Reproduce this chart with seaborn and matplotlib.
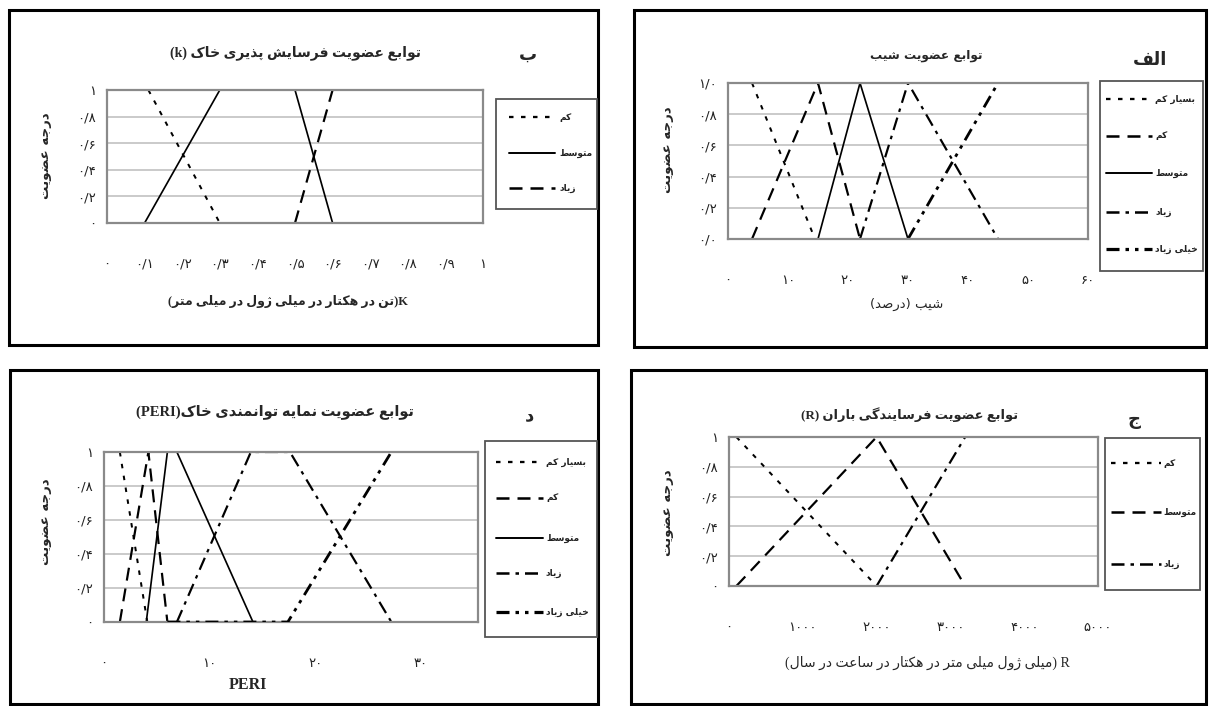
import matplotlib
matplotlib.use("Agg")
import matplotlib.pyplot as plt
import seaborn as sns
from matplotlib import font_manager, ft2font
from matplotlib.patches import Rectangle
from matplotlib.lines import Line2D

# ---------------- data ----------------
# الف : slope (percent)
slope_names = ["بسیار کم", "کم", "متوسط", "زیاد", "خیلی زیاد"]
slope_vlow_x = [4, 14.5];        slope_vlow_y = [1, 0]
slope_low_x = [4, 15, 22];       slope_low_y = [0, 1, 0]
slope_mid_x = [15, 22, 30];      slope_mid_y = [0, 1, 0]
slope_high_x = [22, 30, 45];     slope_high_y = [0, 1, 0]
slope_vhigh_x = [30, 45];        slope_vhigh_y = [0, 1]
slope_xticks = [0, 10, 20, 30, 40, 50, 60]

# ب : soil erodibility K
k_names = ["کم", "متوسط", "زیاد"]
k_low_x = [0.11, 0.3];           k_low_y = [1, 0]
k_mid_x = [0.1, 0.3, 0.5, 0.6];  k_mid_y = [0, 1, 1, 0]
k_high_x = [0.5, 0.6];           k_high_y = [0, 1]
k_xticks = [0, 0.1, 0.2, 0.3, 0.4, 0.5, 0.6, 0.7, 0.8, 0.9, 1]

# ج : rainfall erosivity R
r_names = ["کم", "متوسط", "زیاد"]
r_low_x = [100, 2000];           r_low_y = [1, 0]
r_mid_x = [100, 2000, 3200];     r_mid_y = [0, 1, 0]
r_high_x = [2000, 3200];         r_high_y = [0, 1]
r_xticks = [0, 1000, 2000, 3000, 4000, 5000]

# د : PERI
peri_names = ["بسیار کم", "کم", "متوسط", "زیاد", "خیلی زیاد"]
peri_vlow_x = [1.5, 4.1];              peri_vlow_y = [1, 0]
peri_low_x = [1.5, 4.2, 6.0];          peri_low_y = [0, 1, 0]
peri_mid_x = [4.0, 6.0, 6.9, 14.1];    peri_mid_y = [0, 1, 1, 0]
peri_high_x = [6.9, 13.9, 17.6, 27.2]; peri_high_y = [0, 1, 1, 0]
peri_vhigh_x = [6.0, 17.4, 27.2];      peri_vhigh_y = [0, 0, 1]
peri_xticks = [0, 10, 20, 30]

y_ticks = [0, 0.2, 0.4, 0.6, 0.8, 1.0]

# ---------------- Persian shaping helpers ----------------
RIGHT = {
    'ا': (0xFE8D, 0xFE8E), 'آ': (0xFE81, 0xFE82), 'د': (0xFEA9, 0xFEAA),
    'ذ': (0xFEAB, 0xFEAC), 'ر': (0xFEAD, 0xFEAE), 'ز': (0xFEAF, 0xFEB0),
    'ژ': (0xFB8A, 0xFB8B), 'و': (0xFEED, 0xFEEE),
}
DUAL = {
    'ب': (0xFE8F, 0xFE90, 0xFE91, 0xFE92), 'پ': (0xFB56, 0xFB57, 0xFB58, 0xFB59),
    'ت': (0xFE95, 0xFE96, 0xFE97, 0xFE98), 'ث': (0xFE99, 0xFE9A, 0xFE9B, 0xFE9C),
    'ج': (0xFE9D, 0xFE9E, 0xFE9F, 0xFEA0), 'چ': (0xFB7A, 0xFB7B, 0xFB7C, 0xFB7D),
    'ح': (0xFEA1, 0xFEA2, 0xFEA3, 0xFEA4), 'خ': (0xFEA5, 0xFEA6, 0xFEA7, 0xFEA8),
    'س': (0xFEB1, 0xFEB2, 0xFEB3, 0xFEB4), 'ش': (0xFEB5, 0xFEB6, 0xFEB7, 0xFEB8),
    'ص': (0xFEB9, 0xFEBA, 0xFEBB, 0xFEBC), 'ض': (0xFEBD, 0xFEBE, 0xFEBF, 0xFEC0),
    'ط': (0xFEC1, 0xFEC2, 0xFEC3, 0xFEC4), 'ظ': (0xFEC5, 0xFEC6, 0xFEC7, 0xFEC8),
    'ع': (0xFEC9, 0xFECA, 0xFECB, 0xFECC), 'غ': (0xFECD, 0xFECE, 0xFECF, 0xFED0),
    'ف': (0xFED1, 0xFED2, 0xFED3, 0xFED4), 'ق': (0xFED5, 0xFED6, 0xFED7, 0xFED8),
    'ک': (0xFB8E, 0xFB8F, 0xFB90, 0xFB91), 'گ': (0xFB92, 0xFB93, 0xFB94, 0xFB95),
    'ل': (0xFEDD, 0xFEDE, 0xFEDF, 0xFEE0), 'م': (0xFEE1, 0xFEE2, 0xFEE3, 0xFEE4),
    'ن': (0xFEE5, 0xFEE6, 0xFEE7, 0xFEE8), 'ه': (0xFEE9, 0xFEEA, 0xFEEB, 0xFEEC),
    'ی': (0xFBFC, 0xFBFD, 0xFBFE, 0xFBFF),
}
FALLBACK = {
    'ک': (0xFED9, 0xFEDA, 0xFEDB, 0xFEDC), 'گ': (0xFED9, 0xFEDA, 0xFEDB, 0xFEDC),
    'ی': (0xFEEF, 0xFEF0, 0xFEF3, 0xFEF4), 'پ': (0xFE8F, 0xFE90, 0xFE91, 0xFE92),
    'چ': (0xFE9D, 0xFE9E, 0xFE9F, 0xFEA0), 'ژ': (0xFEAF, 0xFEB0),
}
try:
    _path = font_manager.findfont(font_manager.FontProperties(family="DejaVu Sans", weight="bold"))
    _cmap = set(ft2font.FT2Font(_path).get_charmap().keys())
except Exception:
    _cmap = None


def _forms(c):
    f = DUAL.get(c) or RIGHT.get(c)
    if _cmap is not None and any(cp not in _cmap for cp in f) and c in FALLBACK:
        f = FALLBACK[c]
    return f


def fa_text(s):
    """shape Persian letters and return the string in visual (left-to-right) order"""
    out = []
    for i, c in enumerate(s):
        if c not in DUAL and c not in RIGHT:
            out.append(c)
            continue
        prev = s[i - 1] if i > 0 else ''
        nxt = s[i + 1] if i + 1 < len(s) else ''
        cp = prev in DUAL
        cn = (c in DUAL) and (nxt in DUAL or nxt in RIGHT)
        f = _forms(c)
        if len(f) == 2:
            ch = f[1] if cp else f[0]
        else:
            ch = f[3] if (cp and cn) else f[2] if cn else f[1] if cp else f[0]
        out.append(chr(ch))
    vis = ''.join(out)[::-1]
    return vis.translate(str.maketrans({'(': ')', ')': '('}))


FA_DIGITS = str.maketrans('0123456789', '۰۱۲۳۴۵۶۷۸۹')


def fa_num(v, dec=None):
    s = f"{v:g}" if dec is None else f"{v:.{dec}f}"
    return s.replace('.', '/').translate(FA_DIGITS)


# ---------------- figure ----------------
sns.set_theme(style="white")
plt.rcParams['font.family'] = ['DejaVu Sans']
plt.rcParams['lines.scale_dashes'] = False

W, H = 1210, 706
fig = plt.figure(figsize=(W / 100, H / 100), dpi=100)
fig.patch.set_facecolor('white')

PT = 0.72  # points per pixel at 100 dpi
STYLES = {
    "dot": ((0, (4.5 * PT, 7.5 * PT)), 2.0 * PT),
    "dash": ((0, (13 * PT, 8 * PT)), 2.2 * PT),
    "solid": ('-', 1.7 * PT),
    "dashdot": ((0, (13 * PT, 6 * PT, 3.5 * PT, 6 * PT)), 2.2 * PT),
    "dashdotdot": ((0, (13 * PT, 6 * PT, 3.5 * PT, 6 * PT, 3.5 * PT, 6 * PT)), 2.8 * PT),
}
TICK_FS = 9.5


def fx(px):
    return px / W


def fy(py):
    return 1 - py / H


def make_axes(x0, y0, x1, y1):
    return fig.add_axes([fx(x0), fy(y1), fx(x1) - fx(x0), (y1 - y0) / H])


def draw(ax, x, y, sty, z=2):
    ls, lw = STYLES[sty]
    sns.lineplot(x=x, y=y, ax=ax, color='black', linestyle=ls, linewidth=lw,
                 estimator=None, sort=False, legend=False, zorder=z)


def setup(ax, xmax, xticks, xlabels, ylabels):
    ax.set_xlim(0, xmax)
    ax.set_ylim(0, 1)
    ax.set_xticks(xticks)
    ax.set_xticklabels(xlabels, fontsize=TICK_FS, color='#222222')
    ax.set_yticks(y_ticks)
    ax.set_yticklabels(ylabels, fontsize=TICK_FS, color='#222222')
    ax.tick_params(axis='x', length=0, pad=25)
    ax.tick_params(axis='y', length=0, pad=8)
    for s in ax.spines.values():
        s.set_visible(True)
        s.set_color('#8a8a8a')
        s.set_linewidth(1.6)
    ax.yaxis.grid(True, color='#bcbcbc', linewidth=1.1)
    ax.xaxis.grid(False)
    ax.set_axisbelow(True)
    ax.set_xlabel('')
    ax.set_ylabel('')
    ax.set_facecolor('white')


def legend_box(x0, y0, x1, y1, rows, sx0, sx1, tx):
    fig.add_artist(Rectangle((fx(x0), fy(y1)), fx(x1) - fx(x0), (y1 - y0) / H,
                             transform=fig.transFigure, fill=False,
                             edgecolor='#555555', linewidth=1.3))
    for name, sty, yy in rows:
        ls, lw = STYLES[sty]
        fig.add_artist(Line2D([fx(sx0), fx(sx1)], [fy(yy), fy(yy)], transform=fig.transFigure,
                              color='black', linestyle=ls, linewidth=lw * 1.15))
        fig.text(fx(tx), fy(yy), fa_text(name), ha='left', va='center', fontsize=6.5,
                 fontweight='bold', color='#222222')


def panel_border(x0, y0, x1, y1):
    fig.add_artist(Rectangle((fx(x0), fy(y1)), fx(x1) - fx(x0), (y1 - y0) / H,
                             transform=fig.transFigure, fill=False,
                             edgecolor='black', linewidth=2.2))


ylab = fa_text("درجه عضویت")
ylabels_int = [fa_num(v) for v in y_ticks]
ylabels_dec = [fa_num(v, 1) for v in y_ticks]
MIX = ['Liberation Serif', 'DejaVu Sans']
YLAB_FS = 9.5

# ---------- panel ب (top-left) ----------
panel_border(9, 10, 598, 345)
ax = make_axes(107, 90, 483, 223)
draw(ax, k_low_x, k_low_y, "dot")
draw(ax, k_mid_x, k_mid_y, "solid")
draw(ax, k_high_x, k_high_y, "dash")
setup(ax, 1, k_xticks, [fa_num(v) for v in k_xticks], ylabels_int)
fig.text(fx(295), fy(53), "(k) " + fa_text("توابع عضویت فرسایش پذیری خاک"), ha='center', va='center',
         fontsize=10, fontweight='bold', family=MIX)
fig.text(fx(528), fy(55), fa_text("ب"), ha='center', va='center', fontsize=13, fontweight='bold')
fig.text(fx(46), fy(156), ylab, rotation=90, ha='center', va='center', fontsize=YLAB_FS,
         fontweight='bold')
fig.text(fx(288), fy(302), "(" + fa_text("تن در هکتار در میلی ژول در میلی متر") + ")K",
         ha='center', va='center', fontsize=9, fontweight='bold', family=MIX)
legend_box(496, 99, 597, 209,
           list(zip(k_names, ["dot", "solid", "dash"], [117, 153, 188])), 509, 555, 559)

# ---------- panel الف (top-right) ----------
panel_border(634, 10, 1206, 347)
ax = make_axes(728, 83, 1088, 239)
draw(ax, slope_vlow_x, slope_vlow_y, "dot")
draw(ax, slope_low_x, slope_low_y, "dash")
draw(ax, slope_mid_x, slope_mid_y, "solid")
draw(ax, slope_high_x, slope_high_y, "dashdot")
draw(ax, slope_vhigh_x, slope_vhigh_y, "dashdotdot")
setup(ax, 60, slope_xticks, [fa_num(v) for v in slope_xticks], ylabels_dec)
fig.text(fx(926), fy(55), fa_text("توابع عضویت شیب"), ha='center', va='center',
         fontsize=8.7, fontweight='bold')
fig.text(fx(1150), fy(60), fa_text("الف"), ha='center', va='center', fontsize=13, fontweight='bold')
fig.text(fx(667), fy(150), ylab, rotation=90, ha='center', va='center', fontsize=YLAB_FS,
         fontweight='bold')
fig.text(fx(907), fy(304), fa_text("شیب (درصد)"), ha='center', va='center', fontsize=9.5)
legend_box(1100, 81, 1203, 271,
           list(zip(slope_names, ["dot", "dash", "solid", "dashdot", "dashdotdot"],
                    [99, 136, 173, 212, 249])), 1106, 1152, 1155)

# ---------- panel د (bottom-left) ----------
panel_border(10, 370, 598, 704)
ax = make_axes(104, 452, 478, 622)
draw(ax, peri_vlow_x, peri_vlow_y, "dot")
draw(ax, peri_low_x, peri_low_y, "dash")
draw(ax, peri_mid_x, peri_mid_y, "solid")
draw(ax, peri_high_x, peri_high_y, "dashdot")
draw(ax, peri_vhigh_x, peri_vhigh_y, "dashdotdot", z=3)
setup(ax, 35.4, peri_xticks, [fa_num(v) for v in peri_xticks], ylabels_int)
fig.text(fx(275), fy(412), "(PERI)" + fa_text("توابع عضویت نمایه توانمندی خاک"), ha='center',
         va='center', fontsize=10.5, fontweight='bold', family=MIX)
fig.text(fx(530), fy(415), fa_text("د"), ha='center', va='center', fontsize=13, fontweight='bold')
fig.text(fx(46), fy(522), ylab, rotation=90, ha='center', va='center', fontsize=YLAB_FS,
         fontweight='bold')
fig.text(fx(248), fy(685), "PERI", ha='center', va='center', fontsize=11.5, fontweight='bold',
         family=MIX)
legend_box(485, 441, 597, 637,
           list(zip(peri_names, ["dot", "dash", "solid", "dashdot", "dashdotdot"],
                    [462, 498, 538, 573, 612])), 496, 543, 546)

# ---------- panel ج (bottom-right) ----------
panel_border(631, 370, 1206, 704)
ax = make_axes(729, 437, 1098, 586)
draw(ax, r_low_x, r_low_y, "dot")
draw(ax, r_mid_x, r_mid_y, "dash")
draw(ax, r_high_x, r_high_y, "dashdot")
setup(ax, 5000, r_xticks, [fa_num(v) for v in r_xticks], ylabels_int)
fig.text(fx(910), fy(415), "(R) " + fa_text("توابع عضویت فرسایندگی باران"), ha='center', va='center',
         fontsize=9.4, fontweight='bold', family=MIX)
fig.text(fx(1134), fy(420), fa_text("ج"), ha='center', va='center', fontsize=13, fontweight='bold')
fig.text(fx(667), fy(513), ylab, rotation=90, ha='center', va='center', fontsize=YLAB_FS,
         fontweight='bold')
fig.text(fx(927), fy(663), "(" + fa_text("میلی ژول میلی متر در هکتار در ساعت در سال") + ") R",
         ha='center', va='center', fontsize=10, family=MIX)
legend_box(1105, 438, 1200, 590,
           list(zip(r_names, ["dot", "dash", "dashdot"], [463, 512, 564])), 1111, 1161, 1163)

fig.savefig("out.png", dpi=100, facecolor='white')
